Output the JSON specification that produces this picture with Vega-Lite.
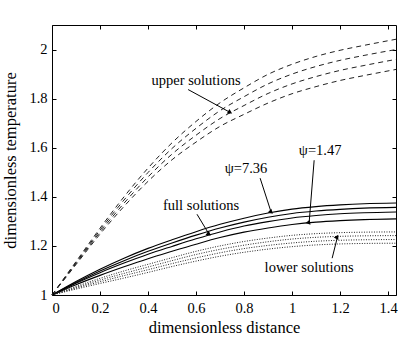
{
  "$schema": "https://vega.github.io/schema/vega-lite/v6.json",
  "width": 344,
  "height": 270,
  "autosize": {"type": "none"},
  "padding": {"left": 52, "top": 25, "right": 2, "bottom": 43},
  "config": {
    "view": {"stroke": "#000", "strokeWidth": 1},
    "font": "Liberation Serif",
    "axis": {
      "domain": false,
      "grid": false,
      "format": "~g",
      "tickColor": "#000",
      "tickSize": -4,
      "labelPadding": 9,
      "labelFont": "Liberation Serif",
      "labelFontSize": 14.5,
      "labelColor": "#000",
      "titleFont": "Liberation Serif",
      "titleFontSize": 16.5,
      "titleFontWeight": "normal",
      "titleColor": "#000"
    }
  },
  "datasets": {
    "profiles": [
      {"x": 0, "u1": 1, "u2": 1, "u3": 1, "u4": 1, "f1": 1, "f2": 1, "f3": 1, "f4": 1, "l1": 1, "l2": 1, "l3": 1, "l4": 1},
      {"x": 0.1, "u1": 1.136, "u2": 1.132, "u3": 1.128, "u4": 1.124, "f1": 1.055, "f2": 1.051, "f3": 1.048, "f4": 1.042, "l1": 1.035, "l2": 1.031, "l3": 1.028, "l4": 1.024},
      {"x": 0.2, "u1": 1.272, "u2": 1.264, "u3": 1.256, "u4": 1.248, "f1": 1.105, "f2": 1.098, "f3": 1.091, "f4": 1.08, "l1": 1.068, "l2": 1.061, "l3": 1.054, "l4": 1.047},
      {"x": 0.3, "u1": 1.4, "u2": 1.387, "u3": 1.374, "u4": 1.361, "f1": 1.15, "f2": 1.14, "f3": 1.13, "f4": 1.115, "l1": 1.098, "l2": 1.088, "l3": 1.079, "l4": 1.069},
      {"x": 0.4, "u1": 1.517, "u2": 1.499, "u3": 1.481, "u4": 1.463, "f1": 1.19, "f2": 1.178, "f3": 1.166, "f4": 1.148, "l1": 1.125, "l2": 1.114, "l3": 1.103, "l4": 1.092},
      {"x": 0.5, "u1": 1.62, "u2": 1.597, "u3": 1.574, "u4": 1.551, "f1": 1.225, "f2": 1.212, "f3": 1.198, "f4": 1.178, "l1": 1.152, "l2": 1.14, "l3": 1.128, "l4": 1.116},
      {"x": 0.6, "u1": 1.707, "u2": 1.679, "u3": 1.651, "u4": 1.623, "f1": 1.258, "f2": 1.244, "f3": 1.229, "f4": 1.207, "l1": 1.178, "l2": 1.165, "l3": 1.151, "l4": 1.138},
      {"x": 0.7, "u1": 1.783, "u2": 1.751, "u3": 1.719, "u4": 1.687, "f1": 1.288, "f2": 1.273, "f3": 1.257, "f4": 1.234, "l1": 1.2, "l2": 1.186, "l3": 1.172, "l4": 1.158},
      {"x": 0.8, "u1": 1.844, "u2": 1.808, "u3": 1.772, "u4": 1.736, "f1": 1.313, "f2": 1.297, "f3": 1.281, "f4": 1.256, "l1": 1.218, "l2": 1.203, "l3": 1.189, "l4": 1.174},
      {"x": 0.9, "u1": 1.899, "u2": 1.86, "u3": 1.821, "u4": 1.782, "f1": 1.334, "f2": 1.317, "f3": 1.299, "f4": 1.273, "l1": 1.232, "l2": 1.217, "l3": 1.202, "l4": 1.187},
      {"x": 1.0, "u1": 1.94, "u2": 1.9, "u3": 1.86, "u4": 1.82, "f1": 1.35, "f2": 1.332, "f3": 1.314, "f4": 1.287, "l1": 1.243, "l2": 1.228, "l3": 1.212, "l4": 1.197},
      {"x": 1.1, "u1": 1.972, "u2": 1.931, "u3": 1.89, "u4": 1.849, "f1": 1.36, "f2": 1.342, "f3": 1.324, "f4": 1.297, "l1": 1.25, "l2": 1.235, "l3": 1.219, "l4": 1.204},
      {"x": 1.2, "u1": 1.997, "u2": 1.956, "u3": 1.915, "u4": 1.874, "f1": 1.367, "f2": 1.349, "f3": 1.331, "f4": 1.303, "l1": 1.254, "l2": 1.239, "l3": 1.223, "l4": 1.208},
      {"x": 1.3, "u1": 2.017, "u2": 1.976, "u3": 1.935, "u4": 1.894, "f1": 1.372, "f2": 1.354, "f3": 1.335, "f4": 1.307, "l1": 1.256, "l2": 1.241, "l3": 1.225, "l4": 1.21},
      {"x": 1.433, "u1": 2.042, "u2": 2.0, "u3": 1.96, "u4": 1.919, "f1": 1.375, "f2": 1.357, "f3": 1.338, "f4": 1.31, "l1": 1.257, "l2": 1.242, "l3": 1.226, "l4": 1.211}
    ],
    "notes": [
      {"text": "upper solutions", "x": 0.6, "y": 1.87},
      {"text": "full solutions", "x": 0.621, "y": 1.362},
      {"text": "ψ=7.36", "x": 0.808, "y": 1.512},
      {"text": "ψ=1.47", "x": 1.117, "y": 1.585},
      {"text": "lower solutions", "x": 1.071, "y": 1.11}
    ],
    "arrows": [
      {"note": "upper", "x": 0.567, "y": 1.837, "x2": 0.742, "y2": 1.744},
      {"note": "full", "x": 0.604, "y": 1.329, "x2": 0.654, "y2": 1.248},
      {"note": "psi736", "x": 0.867, "y": 1.476, "x2": 0.913, "y2": 1.337},
      {"note": "psi147", "x": 1.092, "y": 1.549, "x2": 1.071, "y2": 1.293},
      {"note": "lower", "x": 1.167, "y": 1.15, "x2": 1.188, "y2": 1.232}
    ]
  },
  "layer": [
    {
      "data": {"name": "profiles"},
      "transform": [{"fold": ["u1", "u2", "u3", "u4"], "as": ["curve", "T"]}],
      "mark": {"type": "line", "color": "#222", "strokeWidth": 1, "strokeDash": [5, 4], "interpolate": "monotone"},
      "encoding": {
        "x": {"field": "x", "type": "quantitative", "scale": {"domain": [0, 1.433], "nice": false},
              "axis": {"orient": "bottom", "values": [0, 0.2, 0.4, 0.6, 0.8, 1, 1.2, 1.4], "title": "dimensionless distance", "labelPadding": 10, "titlePadding": 5}},
        "y": {"field": "T", "type": "quantitative", "scale": {"domain": [1, 2.1], "nice": false, "zero": false},
              "axis": {"orient": "left", "values": [1, 1.2, 1.4, 1.6, 1.8, 2], "title": "dimensionless temperature", "titlePadding": 10}},
        "detail": {"field": "curve"}
      }
    },
    {
      "data": {"name": "profiles"},
      "transform": [{"fold": ["f1", "f2", "f3", "f4"], "as": ["curve", "T"]}],
      "mark": {"type": "line", "color": "#000", "strokeWidth": 1.1, "interpolate": "monotone"},
      "encoding": {
        "x": {"field": "x", "type": "quantitative",
              "axis": {"orient": "top", "values": [0, 0.2, 0.4, 0.6, 0.8, 1, 1.2, 1.4], "labels": false, "title": null}},
        "y": {"field": "T", "type": "quantitative",
              "axis": {"orient": "right", "values": [1, 1.2, 1.4, 1.6, 1.8, 2], "labels": false, "title": null}},
        "detail": {"field": "curve"}
      }
    },
    {
      "data": {"name": "profiles"},
      "transform": [{"fold": ["l1", "l2", "l3", "l4"], "as": ["curve", "T"]}],
      "mark": {"type": "line", "color": "#222", "strokeWidth": 1, "strokeDash": [1, 1.5], "interpolate": "monotone"},
      "encoding": {
        "x": {"field": "x", "type": "quantitative", "axis": null},
        "y": {"field": "T", "type": "quantitative", "axis": null},
        "detail": {"field": "curve"}
      }
    },
    {
      "data": {"name": "arrows"},
      "mark": {"type": "rule", "color": "#000", "strokeWidth": 1},
      "encoding": {
        "x": {"field": "x", "type": "quantitative", "axis": null},
        "y": {"field": "y", "type": "quantitative", "axis": null},
        "x2": {"field": "x2"},
        "y2": {"field": "y2"}
      }
    },
    {
      "data": {"name": "arrows"},
      "mark": {"type": "point", "shape": "triangle-up", "filled": true, "color": "#000", "size": 28, "opacity": 1},
      "encoding": {
        "x": {"field": "x2", "type": "quantitative", "axis": null},
        "y": {"field": "y2", "type": "quantitative", "axis": null},
        "angle": {"field": "note", "type": "nominal", "legend": null,
                  "scale": {"domain": ["upper", "full", "psi736", "psi147", "lower"], "range": [119, 149, 162, 185, 13]}}
      }
    },
    {
      "data": {"name": "notes"},
      "mark": {"type": "text", "font": "Liberation Serif", "fontSize": 14.5, "color": "#000", "align": "center", "baseline": "middle"},
      "encoding": {
        "x": {"field": "x", "type": "quantitative", "axis": null},
        "y": {"field": "y", "type": "quantitative", "axis": null},
        "text": {"field": "text"}
      }
    }
  ],
  "resolve": {"axis": {"x": "independent", "y": "independent"}}
}
